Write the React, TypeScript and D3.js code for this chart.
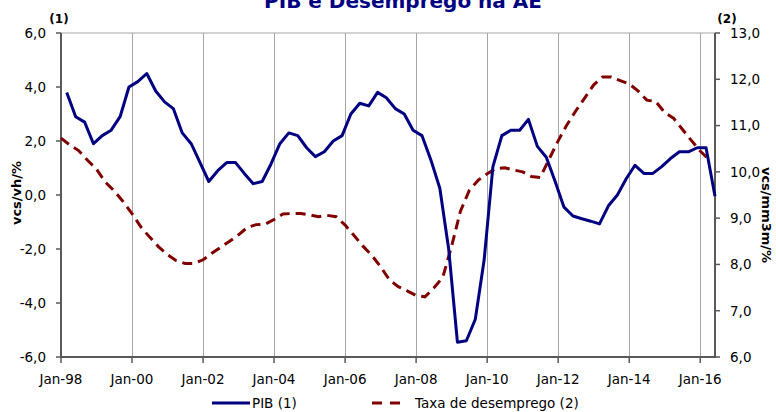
import React from "react";
import * as d3 from "d3";

const title = "PIB e Desemprego na AE";
const leftTicks = [-6, -4, -2, 0, 2, 4, 6];
const rightTicks = [6, 7, 8, 9, 10, 11, 12, 13];
const xTickYears = [1998, 2000, 2002, 2004, 2006, 2008, 2010, 2012, 2014, 2016];

// PIB (1): quarterly, Mar-98 .. Jun-16
const pibStartYear = 1998;
const pibValues = [
  3.8, 2.9, 2.7, 1.9,
  2.2, 2.4, 2.9, 4.0,
  4.2, 4.5, 3.85, 3.45,
  3.2, 2.3, 1.9, 1.2,
  0.5, 0.9, 1.2, 1.2,
  0.8, 0.42, 0.5, 1.15,
  1.9, 2.3, 2.2, 1.75,
  1.42, 1.6, 2.0, 2.2,
  3.0, 3.4, 3.3, 3.8,
  3.6, 3.2, 3.0, 2.4,
  2.2, 1.3, 0.25, -2.0,
  -5.45, -5.4, -4.6, -2.4,
  1.05, 2.2, 2.4, 2.4,
  2.8, 1.8, 1.4, 0.5,
  -0.45, -0.78, -0.88, -0.97,
  -1.07, -0.4, 0.0, 0.6,
  1.1, 0.8, 0.8, 1.05,
  1.35, 1.6, 1.6, 1.75,
  1.75, -0.05,
];

// Taxa de desemprego (2): Jan/Apr/Jul/Oct, Jan-98 .. Apr-16
const unempValues = [
  10.73, 10.58, 10.46, 10.25,
  10.06, 9.78, 9.59, 9.36,
  9.1, 8.81, 8.59, 8.38,
  8.21, 8.08, 8.02, 8.02,
  8.1, 8.24, 8.37, 8.5,
  8.64, 8.8, 8.86, 8.87,
  8.97, 9.09, 9.1, 9.1,
  9.07, 9.03, 9.06, 9.03,
  8.85, 8.63, 8.4, 8.2,
  7.95, 7.67, 7.52, 7.43,
  7.33, 7.3, 7.49, 7.72,
  8.4, 9.15, 9.6, 9.82,
  9.96, 10.07, 10.09, 10.04,
  10.0, 9.9, 9.88, 10.28,
  10.67, 11.02, 11.32, 11.6,
  11.88, 12.05, 12.05, 11.97,
  11.9, 11.75, 11.55, 11.52,
  11.28, 11.16, 10.92, 10.68,
  10.45, 10.26,
];

const fmt = (v: number) => v.toFixed(1).replace(".", ",");

export default function App() {
  const W = 776, H = 412;
  const left = 61, right = 715, top = 33, bottom = 357;
  const x = d3.scaleTime().domain([new Date(1998, 0, 1), new Date(2016, 5, 1)]).range([left, right]);
  const yL = d3.scaleLinear().domain([-6, 6]).range([bottom, top]);
  const yR = d3.scaleLinear().domain([6, 13]).range([bottom, top]);

  const pib = pibValues.map((v, i) => ({ d: new Date(pibStartYear + Math.floor(i / 4), 2 + (i % 4) * 3, 1), v }));
  const une = unempValues.map((v, i) => ({ d: new Date(1998 + Math.floor(i / 4), (i % 4) * 3, 1), v }));

  const pibLine = d3.line<{ d: Date; v: number }>().x((p) => x(p.d)).y((p) => yL(p.v));
  const uneLine = d3.line<{ d: Date; v: number }>().x((p) => x(p.d)).y((p) => yR(p.v));

  const font = "'DejaVu Sans', sans-serif";
  const axisCol = "#595959";
  const gridCol = "#a6a6a6";
  const blue = "#000080";
  const red = "#800000";
  const fs = 13.5;

  return (
    <svg width={W} height={H} style={{ position: "absolute", left: 0, top: 0, background: "#fff" }} fontFamily={font}>
      <text x={403} y={8} textAnchor="middle" fontWeight="bold" fontSize={20} fill={blue}>{title}</text>

      {/* gridlines */}
      <line x1={left} x2={right} y1={top} y2={top} stroke={gridCol} strokeWidth={1} />
      {xTickYears.slice(1).map((yr) => (
        <line key={yr} x1={Math.round(x(new Date(yr, 0, 1))) + 0.5} x2={Math.round(x(new Date(yr, 0, 1))) + 0.5} y1={top} y2={bottom} stroke={gridCol} strokeWidth={1} />
      ))}

      {/* axes */}
      <line x1={left} x2={left} y1={top} y2={bottom + 1} stroke={axisCol} strokeWidth={2} />
      <line x1={right} x2={right} y1={top} y2={bottom + 1} stroke={axisCol} strokeWidth={2} />
      <line x1={left - 1} x2={right + 1} y1={bottom} y2={bottom} stroke={axisCol} strokeWidth={2} />

      {leftTicks.map((t) => (
        <g key={"l" + t}>
          <line x1={left - 5} x2={left} y1={yL(t)} y2={yL(t)} stroke={axisCol} strokeWidth={1.5} />
          <text x={46} y={yL(t)} dy="0.36em" textAnchor="end" fontSize={fs} fill="#000">{fmt(t)}</text>
        </g>
      ))}
      {rightTicks.map((t) => (
        <g key={"r" + t}>
          <line x1={right} x2={right + 5} y1={yR(t)} y2={yR(t)} stroke={axisCol} strokeWidth={1.5} />
          <text x={730} y={yR(t)} dy="0.36em" textAnchor="start" fontSize={fs} fill="#000">{fmt(t)}</text>
        </g>
      ))}
      {xTickYears.map((yr) => {
        const xx = x(new Date(yr, 0, 1));
        return (
          <g key={"x" + yr}>
            <line x1={xx} x2={xx} y1={bottom} y2={bottom + 6} stroke={axisCol} strokeWidth={1.5} />
            <text x={xx} y={384} textAnchor="middle" fontSize={fs} fill="#000">{"Jan-" + String(yr % 100).padStart(2, "0")}</text>
          </g>
        );
      })}

      <text x={59} y={23} textAnchor="middle" fontSize={12} fontWeight="bold" fill="#000">(1)</text>
      <text x={727} y={23} textAnchor="middle" fontSize={12} fontWeight="bold" fill="#000">(2)</text>

      <text transform={`translate(16,193) rotate(-90)`} textAnchor="middle" dy="0.35em" fontSize={13} fontWeight="bold" fill="#000">vcs/vh/%</text>
      <text transform={`translate(767,215) rotate(90)`} textAnchor="middle" dy="0.35em" fontSize={13} fontWeight="bold" fill="#000">vcs/mm3m/%</text>

      {/* series */}
      <path d={uneLine(une) || ""} fill="none" stroke={red} strokeWidth={3} strokeDasharray="10,6" />
      <path d={pibLine(pib) || ""} fill="none" stroke={blue} strokeWidth={3} strokeLinejoin="round" />

      {/* legend */}
      <line x1={212} x2={250} y1={403} y2={403} stroke={blue} strokeWidth={3} />
      <text x={252} y={403} dy="0.36em" fontSize={fs} fill="#000">PIB (1)</text>
      <line x1={372} x2={401} y1={403} y2={403} stroke={red} strokeWidth={3} strokeDasharray="10,8" />
      <text x={415} y={403} dy="0.36em" fontSize={fs} fill="#000">Taxa de desemprego (2)</text>
    </svg>
  );
}
